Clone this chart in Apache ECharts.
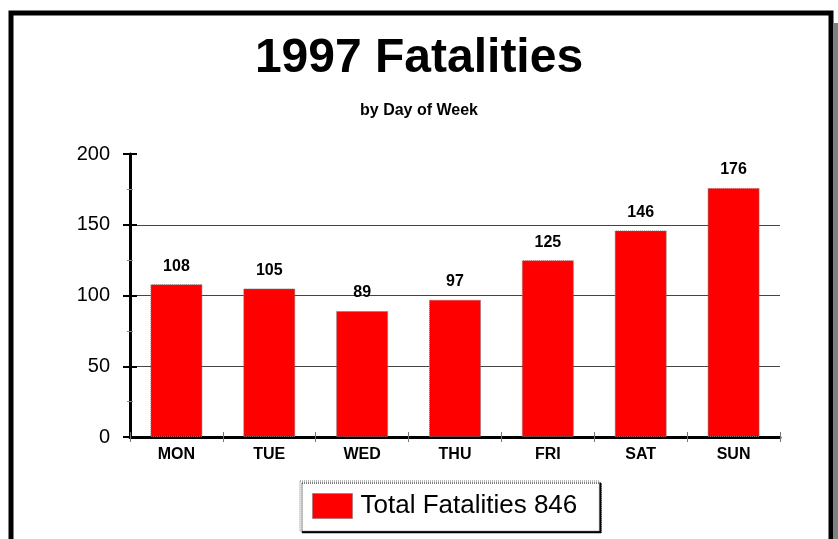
<!DOCTYPE html>
<html>
<head>
<meta charset="utf-8">
<script src="https://cdn.jsdelivr.net/npm/echarts@6/dist/echarts.min.js"></script>
<style>
  html, body { margin: 0; padding: 0; background: #fff; }
  #fatalChart { width: 838px; height: 539px; }
</style>
</head>
<body>
<div id="fatalChart"></div>
<script>
var days = ["MON", "TUE", "WED", "THU", "FRI", "SAT", "SUN"];
var fatalities = [108, 105, 89, 97, 125, 146, 176];
var yTicks = [0, 50, 100, 150, 200];
var seriesName = "Total Fatalities 846";

var font = "'Liberation Sans', Arial, sans-serif";
var chart = echarts.init(document.getElementById("fatalChart"));

var option = {
  backgroundColor: "#fff",
  animation: false,
  title: [
    {
      text: "1997 Fatalities",
      left: "center",
      top: 30,
      textStyle: { fontFamily: font, fontSize: 48, fontWeight: "bold", color: "#000" }
    },
    {
      text: "by Day of Week",
      left: "center",
      top: 98,
      textStyle: { fontFamily: font, fontSize: 16, fontWeight: "bold", color: "#000" }
    }
  ],
  legend: {
    left: 300,
    top: 481,
    orient: "horizontal",
    icon: "rect",
    itemWidth: 40,
    itemHeight: 25,
    padding: [12, 22, 12, 12],
    backgroundColor: "#fff",
    borderColor: "#777",
    borderWidth: 1,
    borderType: "dotted",
    shadowColor: "#000",
    shadowBlur: 0,
    shadowOffsetX: 2,
    shadowOffsetY: 2,
    textStyle: { fontFamily: font, fontSize: 26, color: "#000", padding: [0, 0, 0, 3] },
    itemStyle: { borderColor: "#777", borderWidth: 1, borderType: "dotted" },
    data: [seriesName]
  },
  grid: { left: 130, right: 58, top: 154, bottom: 102, containLabel: false },
  xAxis: [
    {
      type: "category",
      data: days,
      axisLine: { show: true, lineStyle: { color: "#000", width: 3 } },
      axisTick: { show: true, length: 5, lineStyle: { color: "#777", width: 1 } },
      axisLabel: { fontFamily: font, fontSize: 16, fontWeight: "bold", color: "#000", margin: 10 }
    },
    {
      type: "category",
      data: days,
      position: "bottom",
      axisLine: { show: false },
      axisTick: { show: true, inside: true, length: 5, lineStyle: { color: "#777", width: 1 } },
      axisLabel: { show: false }
    }
  ],
  yAxis: [
    {
      type: "value",
      min: yTicks[0],
      max: yTicks[yTicks.length - 1],
      interval: 50,
      axisLine: { show: true, lineStyle: { color: "#000", width: 3 } },
      axisTick: { show: true, length: 7, lineStyle: { color: "#000", width: 2 } },
      minorTick: { show: true, splitNumber: 2, length: 3, lineStyle: { color: "#888", width: 1 } },
      axisLabel: { fontFamily: font, fontSize: 20, color: "#000", margin: 20 },
      splitLine: {
        show: true,
        lineStyle: { color: ["#000", "#444", "#444", "#444", "rgba(0,0,0,0)"], width: 1 }
      }
    },
    {
      type: "value",
      position: "left",
      min: yTicks[0],
      max: yTicks[yTicks.length - 1],
      interval: 50,
      axisLine: { show: false },
      axisTick: { show: true, inside: true, length: 7, lineStyle: { color: "#000", width: 2 } },
      minorTick: { show: true, splitNumber: 2, length: 3, lineStyle: { color: "#888", width: 1 } },
      axisLabel: { show: false },
      splitLine: { show: false }
    }
  ],
  series: [
    {
      name: seriesName,
      type: "bar",
      data: fatalities,
      barCategoryGap: "44%",
      itemStyle: { color: "#ff0000", borderColor: "#777", borderWidth: 1, borderType: "dotted" },
      label: {
        show: true,
        position: "top",
        distance: 10,
        fontFamily: font,
        fontSize: 16,
        fontWeight: "bold",
        color: "#000"
      }
    }
  ],
  graphic: [
    {
      type: "rect",
      shape: { x: 11, y: 13, width: 820, height: 600 },
      style: { fill: null, stroke: "#000", lineWidth: 5 },
      silent: true
    },
    {
      type: "rect",
      shape: { x: 833, y: 23, width: 5, height: 520 },
      style: { fill: "#808080" },
      silent: true
    }
  ]
};

chart.setOption(option);
</script>
</body>
</html>
